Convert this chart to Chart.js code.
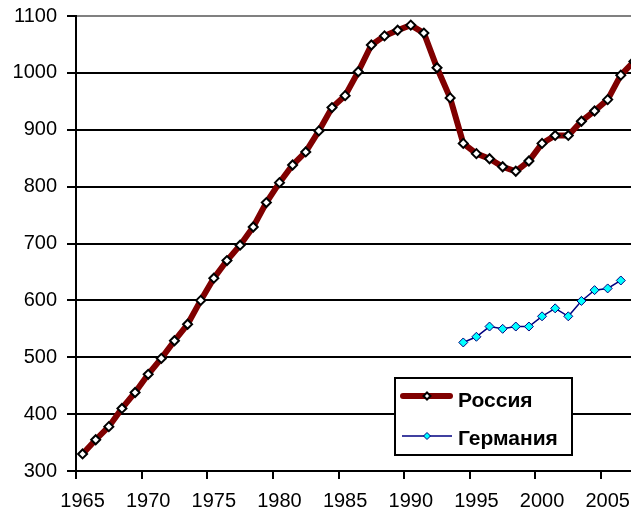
<!DOCTYPE html>
<html>
<head>
<meta charset="utf-8">
<script src="https://cdn.jsdelivr.net/npm/chart.js@4/dist/chart.umd.min.js"></script>
<style>
  html, body { margin: 0; padding: 0; background: #fff; overflow: hidden; }
  #wrap { width: 647px; height: 515px; }
</style>
</head>
<body>
<div id="wrap"><canvas id="myChart" width="647" height="515"></canvas></div>
<script>
const years = []
for (let y = 1965; y <= 2007; y++) years.push(String(y))

const russia = [330, 355, 378, 410, 438, 470, 498, 529, 558, 600,
    639, 670, 697, 729, 772, 807, 838, 861, 898, 939,
    960, 1002, 1049, 1065, 1075, 1084, 1070, 1009, 956, 876,
    858, 849, 835, 827, 845, 876, 890, 890, 915, 933,
    953, 996, 1020]

const germanyYears = [1994, 1995, 1996, 1997, 1998, 1999, 2000, 2001, 2002, 2003, 2004, 2005, 2006]
const germanyValues = [526, 536, 554, 550, 554, 554, 572, 586, 572, 599, 618, 621, 635]

const yTicks = [300, 400, 500, 600, 700, 800, 900, 1000, 1100]

const germany = years.map(y => {
    const i = germanyYears.indexOf(Number(y))
    return i >= 0 ? germanyValues[i] : null
})

const font = "'Liberation Sans', Arial, sans-serif"

function diamond(ctx, x, y, r, fill, stroke, lw) {
    ctx.beginPath()
    ctx.moveTo(x, y - r)
    ctx.lineTo(x + r, y)
    ctx.lineTo(x, y + r)
    ctx.lineTo(x - r, y)
    ctx.closePath()
    ctx.fillStyle = fill
    ctx.fill()
    ctx.lineWidth = lw
    ctx.strokeStyle = stroke
    ctx.stroke()
}

// legend box drawn inside the plot, like the original
const boxLegend = {
    id: 'boxLegend',
    afterDraw(chart) {
        const ctx = chart.ctx
        const ds = chart.data.datasets
        ctx.save()
        ctx.fillStyle = '#fff'
        ctx.fillRect(395, 378, 177, 77)
        ctx.lineWidth = 2
        ctx.strokeStyle = '#000'
        ctx.strokeRect(395, 378, 177, 77)
        const rows = [396, 436]
        ds.forEach((d, i) => {
            const y = rows[i]
            ctx.beginPath()
            ctx.moveTo(i === 0 ? 403 : 402, y)
            ctx.lineTo(i === 0 ? 450 : 452, y)
            ctx.lineWidth = d.borderWidth
            ctx.strokeStyle = d.borderColor
            ctx.lineCap = i === 0 ? 'round' : 'butt'
            ctx.stroke()
            diamond(ctx, 427, y, 3.5, d.pointBackgroundColor, d.pointBorderColor, d.pointBorderWidth)
            ctx.fillStyle = '#000'
            ctx.font = 'bold 21px ' + font
            ctx.textBaseline = 'alphabetic'
            ctx.textAlign = 'left'
            ctx.fillText(d.label, 458, i === 0 ? 406.5 : 444.5)
        })
        ctx.restore()
    }
}

const ctx = document.getElementById('myChart').getContext('2d')
const myChart = new Chart(ctx, {
    type: 'line',
    data: {
        labels: years,
        datasets: [{
            label: 'Россия',
            data: russia,
            borderColor: '#800000',
            borderWidth: 6,
            pointStyle: 'rectRot',
            pointRadius: 4.5,
            pointBackgroundColor: '#fff',
            pointBorderColor: '#000',
            pointBorderWidth: 2,
            tension: 0,
            clip: 10
        }, {
            label: 'Германия',
            data: germany,
            borderColor: '#000080',
            borderWidth: 1.5,
            pointStyle: 'rectRot',
            pointRadius: 4.5,
            pointBackgroundColor: '#00ffff',
            pointBorderColor: '#000080',
            pointBorderWidth: 1,
            tension: 0,
            spanGaps: false
        }]
    },
    options: {
        responsive: false,
        animation: false,
        layout: { padding: { top: 16, right: 0, left: 0, bottom: 0 } },
        plugins: {
            legend: { display: false },
            tooltip: { enabled: false }
        },
        scales: {
            x: {
                type: 'category',
                offset: true,
                afterFit: s => { s.height = 44 },
                border: { color: '#000', width: 2 },
                grid: {
                    offset: true,
                    drawOnChartArea: false,
                    drawTicks: true,
                    tickLength: 8,
                    lineWidth: 2,
                    color: c => (c.index % 5 === 0 ? '#000' : 'rgba(0,0,0,0)')
                },
                ticks: {
                    autoSkip: false,
                    maxRotation: 0,
                    padding: 10,
                    color: '#000',
                    font: { family: font, size: 20 },
                    callback: function (value) {
                        const lab = this.getLabelForValue(value)
                        return Number(lab) % 5 === 0 ? lab : ''
                    }
                }
            },
            y: {
                min: 300,
                max: 1100,
                afterFit: s => { s.width = 76; s.paddingTop = 0; s.paddingBottom = 0 },
                afterBuildTicks: s => { s.ticks = yTicks.map(v => ({ value: v })) },
                border: { color: '#000', width: 2 },
                grid: {
                    lineWidth: 2,
                    tickLength: 9,
                    color: c => (c.tick && c.tick.value === 1100 ? '#808080' : '#000'),
                    tickColor: '#000'
                },
                ticks: {
                    padding: 10,
                    color: '#000',
                    font: { family: font, size: 20 },
                    callback: v => String(v)
                }
            }
        }
    },
    plugins: [boxLegend]
})
</script>
</body>
</html>
